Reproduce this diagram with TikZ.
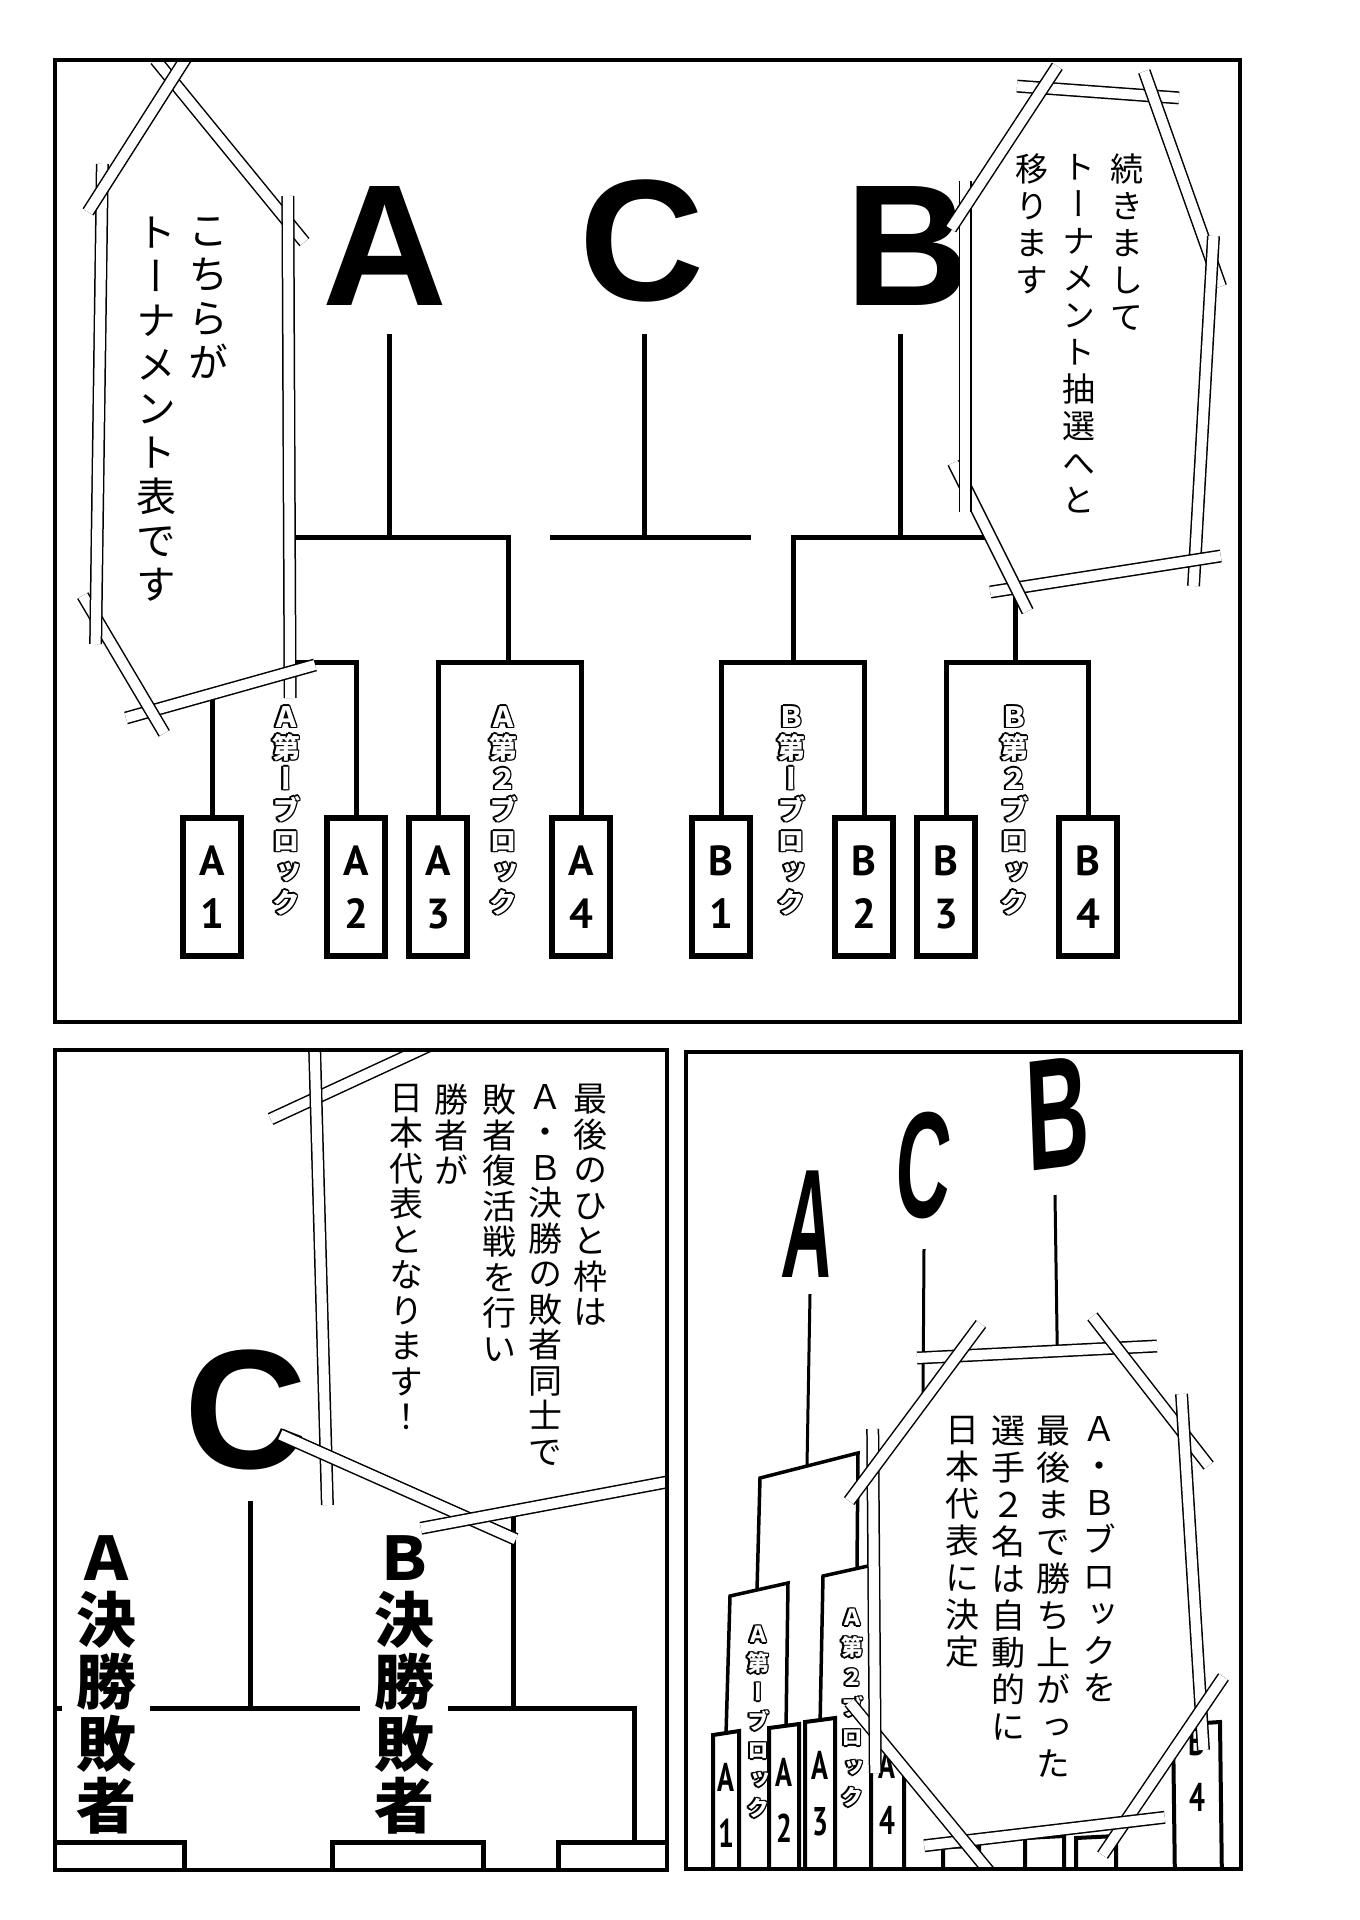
\documentclass[tikz,border=0pt]{standalone}
\usepackage{fontspec}
\usetikzlibrary{calc}
\newfontfamily\jpfont[RawFeature=+vert]{Noto Sans CJK JP}
\newfontfamily\latinbold{Liberation Sans}
\newfontfamily\seatfont{PT Sans}

\ExplSyntaxOn
\tl_new:N \l_vchars_tl
\NewDocumentCommand\vtxt{m}
  {\tl_set:No \l_vchars_tl {#1}
   \vbox{\tl_map_inline:Nn \l_vchars_tl {\hbox_to_wd:nn {1em} {\hss ##1 \hss}}}}
\ExplSyntaxOff

% outlined vertical label: white letters with a black rim
\newcommand\olabel[4][]{%
  \foreach \dx/\dy in {1.6/0,-1.6/0,0/1.6,0/-1.6,1.1/1.1,1.1/-1.1,-1.1/1.1,-1.1/-1.1}
    {\node[blocklbl,#1,text=black] at ($(#3)+(\dx,\dy)$) {\vtxt{#4}};}
  \node[blocklbl,#1,text=white] (#2) at (#3) {\vtxt{#4}};}

\tikzset{
  panel/.style={draw, line width=4pt},
  bline/.style={line width=5pt},
  pline/.style={line width=3.5pt},
  seat/.style={draw, line width=6pt, fill=white, minimum width=58pt, minimum height=138pt,
    inner sep=0pt, align=center, font=\seatfont\bfseries\fontsize{42}{53}\selectfont},
  brseat/.style={draw, line width=4pt, fill=white},
  brtxt/.style={inner sep=0pt, align=center, xscale=0.7, font=\seatfont\bfseries\fontsize{40}{56}\selectfont},
  bigletter/.style={inner sep=0pt, anchor=base, font=\latinbold\bfseries\fontsize{173}{173}\selectfont},
  burst/.style={double, double distance=10pt, line width=1.5pt, shorten <=-26pt, shorten >=-26pt},
  vtext/.style={inner sep=0pt, anchor=north, font=\jpfont\fontsize{34}{36}\selectfont},
  blocklbl/.style={inner sep=0pt, anchor=north, font=\jpfont\bfseries\fontsize{28}{31}\selectfont},
  loser/.style={inner xsep=14pt, inner ysep=0pt, anchor=north, fill=white,
    font=\jpfont\bfseries\fontsize{60}{62}\selectfont},
}

\begin{document}
\begin{tikzpicture}[x=1pt, y=-1pt]
\useasboundingbox (0,0) rectangle (1360,1920);
\fill[white] (0,0) rectangle (1360,1920);

%% top panel: the whole tournament
\begin{scope}
\clip (55,60) rectangle (1240,1022);
\node[bigletter] (ltrA) at (385,305) {A};
\node[bigletter] (ltrC) at (642,300) {C};
\node[bigletter] (ltrB) at (908,305) {B};
\foreach \nm/\x/\seatl/\seatn in {a1/212/A/1, a2/356/A/2, a3/438/A/3, a4/581/A/4,
    b1/721/B/1, b2/864/B/2, b3/946/B/3, b4/1088/B/4}
  \node[seat] (\nm) at (\x,887) {\seatl\\\seatn};
\coordinate (pa12) at (285,662); \coordinate (pa34) at (508,662);
\coordinate (pb12) at (793,662); \coordinate (pb34) at (1015,662);
\coordinate (ga) at (389,537); \coordinate (gc) at (644,537); \coordinate (gb) at (900,537);
\coordinate (gcl) at (550,537); \coordinate (gcr) at (751,537);
\coordinate (ta) at (389,334); \coordinate (tc) at (644,334); \coordinate (tb) at (900,334);
\draw[bline] (a1.north) |- (pa12) -| (a2.north);
\draw[bline] (a3.north) |- (pa34) -| (a4.north);
\draw[bline] (b1.north) |- (pb12) -| (b2.north);
\draw[bline] (b3.north) |- (pb34) -| (b4.north);
\draw[bline] (pa12) |- (ga) -| (pa34);
\draw[bline] (pb12) |- (gb) -| (pb34);
\draw[bline] (gcl) -- (gcr);
\foreach \g/\t in {ga/ta, gc/tc, gb/tb}
  \draw[bline] (\g) -- (\t);
\olabel{lba1}{286,706}{Ａ第ーブロック}
\olabel{lba2}{503,706}{Ａ第２ブロック}
\olabel{lbb1}{791,706}{Ｂ第ーブロック}
\olabel{lbb2}{1014,706}{Ｂ第２ブロック}
% left bubble
\coordinate (L1) at (172,80); \coordinate (L2) at (288,222); \coordinate (L3) at (290,672);
\coordinate (L4) at (151,711); \coordinate (L5) at (96,618); \coordinate (L6) at (102,190);
\fill[white] (L1) -- (L2) -- (L3) -- (L4) -- (L5) -- (L6) -- cycle;
\foreach \p/\q in {L1/L2, L2/L3, L3/L4, L4/L5, L5/L6, L6/L1}
  \draw[burst] (\p) -- (\q);
\node[vtext, font=\jpfont\fontsize{40}{44}\selectfont] (tl1) at (208,217) {\vtxt{こちらが}};
\node[vtext, font=\jpfont\fontsize{40}{44}\selectfont] (tl2) at (156,217) {\vtxt{トーナメント表です}};
% right bubble
\coordinate (R1) at (1043,88); \coordinate (R2) at (1153,96); \coordinate (R3) at (1212,262);
\coordinate (R4) at (1195,560); \coordinate (R5) at (1016,588); \coordinate (R6) at (965,486);
\coordinate (R7) at (965,207);
\fill[white] (R1) -- (R2) -- (R3) -- (R4) -- (R5) -- (R6) -- (R7) -- cycle;
\foreach \p/\q in {R1/R2, R2/R3, R3/R4, R4/R5, R5/R6, R6/R7, R7/R1}
  \draw[burst] (\p) -- (\q);
\node[vtext, font=\jpfont\fontsize{33}{37}\selectfont] (tr1) at (1127,154) {\vtxt{続きまして}};
\node[vtext, font=\jpfont\fontsize{33}{37}\selectfont] (tr2) at (1079,154) {\vtxt{トーナメント抽選へと}};
\node[vtext, font=\jpfont\fontsize{33}{37}\selectfont] (tr3) at (1032,154) {\vtxt{移ります}};
\end{scope}

%% bottom left panel: the C slot
\begin{scope}
\clip (55,1050) rectangle (667,1870);
\node[bigletter, font=\latinbold\bfseries\fontsize{170}{170}\selectfont] (ltrC2) at (246,1468) {C};
\coordinate (tc2) at (250,1501); \coordinate (gc2) at (250,1708);
\coordinate (hl1) at (55,1708); \coordinate (hl2) at (360,1708);
\coordinate (hr1) at (434,1708); \coordinate (hr2) at (634,1708);
\coordinate (vr1) at (513,1500); \coordinate (vr2) at (513,1708); \coordinate (hr3) at (634,1842);
\draw[bline] (tc2) -- (gc2);
\draw[bline] (hl1) -- (hl2);
\draw[bline] (hr1) -- (hr2) -- (hr3);
\draw[bline] (vr1) -- (vr2);
\draw[bline] (50,1842) rectangle (184,1900);
\draw[bline] (332,1842) rectangle (483,1900);
\draw[bline] (558,1842) rectangle (690,1900);
\node[loser] (losA) at (106,1535) {\vtxt{Ａ決勝敗者}};
\node[loser] (losB) at (404,1535) {\vtxt{Ｂ決勝敗者}};
% bubble
\coordinate (M1) at (450,1036); \coordinate (M2) at (316,1098); \coordinate (M3) at (326,1455);
\coordinate (M4) at (470,1519); \coordinate (M5) at (720,1472); \coordinate (M6) at (720,1000);
\fill[white] (M1) -- (M2) -- (M3) -- (M4) -- (M5) -- (M6) -- cycle;
\foreach \p/\q in {M1/M2, M2/M3, M3/M4, M4/M5}
  \draw[burst, shorten <=-50pt, shorten >=-50pt] (\p) -- (\q);
\foreach \nm/\x/\txt in {tm1/590/最後のひと枠は, tm2/545/Ａ・Ｂ決勝の敗者同士で,
    tm3/499/敗者復活戦を行い, tm4/451/勝者が, tm5/406/日本代表となります！}
  \node[vtext, font=\jpfont\fontsize{34}{35.5}\selectfont] (\nm) at (\x,1084) {\vtxt{\txt}};
\end{scope}

%% bottom right panel: A and B winners go through
\begin{scope}
\clip (686,1052) rectangle (1241,1869);
\node[bigletter, font=\latinbold\bfseries\fontsize{155}{155}\selectfont, xscale=0.45, xslant=0.15]
  (ltrA3) at (806,1277) {A};
\node[bigletter, font=\latinbold\bfseries\fontsize{151}{151}\selectfont, xscale=0.5, xslant=0.12]
  (ltrC3) at (921,1217) {C};
\node[bigletter, font=\latinbold\bfseries\fontsize{158}{158}\selectfont, xscale=0.55, rotate=4]
  (ltrB3) at (1060,1168) {B};
\draw[line width=3pt] (810,1294) -- (807,1466);
\draw[line width=3pt] (924,1249) -- (923,1400);
\draw[line width=3pt] (1055,1195) -- (1058,1400);
\draw[pline] (757,1590) -- (760,1478) -- (858,1453) -- (857,1568);
\draw[pline] (726,1735) -- (730,1596) -- (788,1583) -- (786,1730);
\draw[pline] (820,1726) -- (823,1576) -- (895,1560) -- (893,1732);
\draw[brseat] (713,1735) -- (739,1731) -- (739,1885) -- (713,1885) -- cycle;
\draw[brseat] (769,1728) -- (799,1724) -- (799,1885) -- (769,1885) -- cycle;
\draw[brseat] (805,1722) -- (835,1718) -- (835,1885) -- (805,1885) -- cycle;
\draw[brseat] (871,1730) -- (904,1727) -- (904,1885) -- (871,1885) -- cycle;
\draw[brseat] (943,1847) -- (979,1846) -- (979,1885) -- (943,1885) -- cycle;
\draw[brseat] (1025,1838) -- (1064,1836) -- (1064,1885) -- (1025,1885) -- cycle;
\draw[brseat] (1076,1838) -- (1116,1836) -- (1116,1885) -- (1076,1885) -- cycle;
\draw[brseat] (1173,1725) -- (1220,1722) -- (1222,1885) -- (1175,1885) -- cycle;
\node[brtxt] (sa1) at (726,1805) {A\\1};
\node[brtxt] (sa2) at (784,1800) {A\\2};
\node[brtxt] (sa3) at (820,1794) {A\\3};
\node[brtxt] (sa4) at (887,1792) {A\\4};
\node[brtxt] (sb4) at (1197,1769) {B\\4};
\olabel[font=\jpfont\bfseries\fontsize{22}{29}\selectfont]{lbr1}{758,1626}{Ａ第ーブロック}
\olabel[font=\jpfont\bfseries\fontsize{22}{30}\selectfont]{lbr2}{852,1609}{Ａ第２ブロック}
% bubble
\coordinate (O1) at (957,1356); \coordinate (O2) at (1117,1348); \coordinate (O3) at (1184,1434);
\coordinate (O4) at (1201,1710); \coordinate (O5) at (1125,1822); \coordinate (O6) at (964,1841);
\coordinate (O7) at (875,1733); \coordinate (O8) at (873,1469);
\fill[white] (O1) -- (O2) -- (O3) -- (O4) -- (O5) -- (O6) -- (O7) -- (O8) -- cycle;
\foreach \p/\q in {O1/O2, O2/O3, O3/O4, O4/O5, O5/O6, O6/O7, O7/O8, O8/O1}
  \draw[burst, shorten <=-40pt, shorten >=-40pt] (\p) -- (\q);
\foreach \nm/\x/\txt in {tn1/1099/Ａ・Ｂブロックを, tn2/1053/最後まで勝ち上がった,
    tn3/1008/選手２名は自動的に, tn4/962/日本代表に決定}
  \node[vtext, font=\jpfont\fontsize{34}{37}\selectfont] (\nm) at (\x,1416) {\vtxt{\txt}};
\end{scope}

%% panel frames
\draw[panel] (55,60) rectangle (1240,1022);
\draw[panel] (55,1050) rectangle (667,1870);
\draw[panel] (686,1052) rectangle (1241,1869);
\end{tikzpicture}
\end{document}
